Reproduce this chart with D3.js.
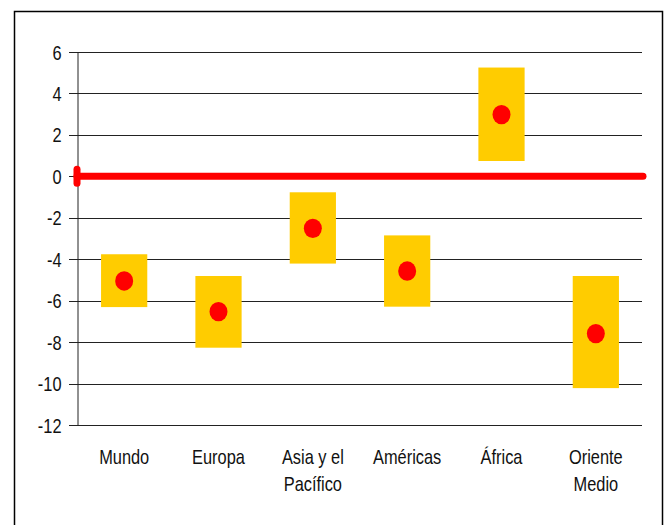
<!DOCTYPE html>
<html>
<head>
<meta charset="utf-8">
<script src="https://cdn.jsdelivr.net/npm/d3@7"></script>
<style>
  body { margin: 0; background: #fff; }
  svg text { font-family: "Liberation Sans", Arial, sans-serif; fill: #111; }
</style>
</head>
<body>
<div id="grafico"></div>
<script>
// Datos
const regiones = [["Mundo"], ["Europa"], ["Asia y el", "Pacífico"], ["Américas"], ["África"], ["Oriente", "Medio"]];
const maximo = [-3.76, -4.81, -0.77, -2.85, 5.25, -4.81];
const minimo = [-6.31, -8.27, -4.21, -6.29, 0.74, -10.22];
const central = [-5.05, -6.53, -2.51, -4.57, 2.98, -7.59];
const ticksY = [6, 4, 2, 0, -2, -4, -6, -8, -10, -12];

const width = 666, height = 525;
const marginLeft = 77, marginRight = 23, marginTop = 52, yBottom = 425;
const estrecho = 0.82; // letra angosta (Arial Narrow no esta)

const svg = d3.select("#grafico").append("svg")
  .attr("width", width)
  .attr("height", height);

// marco
svg.append("rect")
  .attr("x", 14.5).attr("y", 11.5)
  .attr("width", 648).attr("height", 530)
  .attr("fill", "none").attr("stroke", "#000").attr("stroke-width", 1.5);

const xScale = d3.scaleBand()
  .domain(d3.range(regiones.length))
  .range([marginLeft, width - marginRight])
  .paddingInner(0.51).paddingOuter(0.255);

const yScale = d3.scaleLinear()
  .domain([-12, 6])
  .range([yBottom, marginTop]);

// grilla
svg.append("g")
  .selectAll("line")
  .data(ticksY)
  .join("line")
  .attr("x1", 69).attr("x2", 642)
  .attr("y1", d => Math.round(yScale(d)) + 0.5)
  .attr("y2", d => Math.round(yScale(d)) + 0.5)
  .attr("stroke", "#222").attr("stroke-width", 1);

// eje y
const yAxis = d3.axisLeft(yScale).tickValues(ticksY).tickSize(0).tickFormat(d => String(d));
const gy = svg.append("g")
  .attr("transform", `translate(${marginLeft + 0.5},0)`)
  .call(yAxis);
gy.select(".domain").attr("stroke", "#222");
gy.selectAll("text")
  .style("font-size", "20px")
  .attr("x", -16 / estrecho)
  .attr("dy", "0.35em")
  .attr("transform", `scale(${estrecho},1)`);

// barras
svg.append("g")
  .selectAll("rect")
  .data(regiones)
  .join("rect")
  .attr("x", (d, i) => xScale(i))
  .attr("width", xScale.bandwidth())
  .attr("y", (d, i) => yScale(maximo[i]))
  .attr("height", (d, i) => yScale(minimo[i]) - yScale(maximo[i]))
  .attr("fill", "#ffcc00");

// linea cero
svg.append("line")
  .attr("x1", marginLeft).attr("x2", 643)
  .attr("y1", yScale(0)).attr("y2", yScale(0))
  .attr("stroke", "#ff0000").attr("stroke-width", 7)
  .attr("stroke-linecap", "round");
svg.append("line")
  .attr("x1", marginLeft).attr("x2", marginLeft)
  .attr("y1", yScale(0) - 7).attr("y2", yScale(0) + 7)
  .attr("stroke", "#ff0000").attr("stroke-width", 7)
  .attr("stroke-linecap", "round");

// puntos
svg.append("g")
  .selectAll("ellipse")
  .data(central)
  .join("ellipse")
  .attr("cx", (d, i) => xScale(i) + xScale.bandwidth() / 2)
  .attr("cy", d => yScale(d))
  .attr("rx", 9).attr("ry", 9.7)
  .attr("fill", "#ff0000");

// etiquetas
const etiquetas = svg.append("g")
  .selectAll("text")
  .data(regiones)
  .join("text")
  .attr("transform", (d, i) => `translate(${xScale(i) + xScale.bandwidth() / 2},464) scale(${estrecho},1)`)
  .attr("text-anchor", "middle")
  .style("font-size", "20px");
etiquetas.selectAll("tspan")
  .data(d => d)
  .join("tspan")
  .attr("x", 0)
  .attr("dy", (d, i) => i === 0 ? 0 : 27)
  .text(d => d);
</script>
</body>
</html>
